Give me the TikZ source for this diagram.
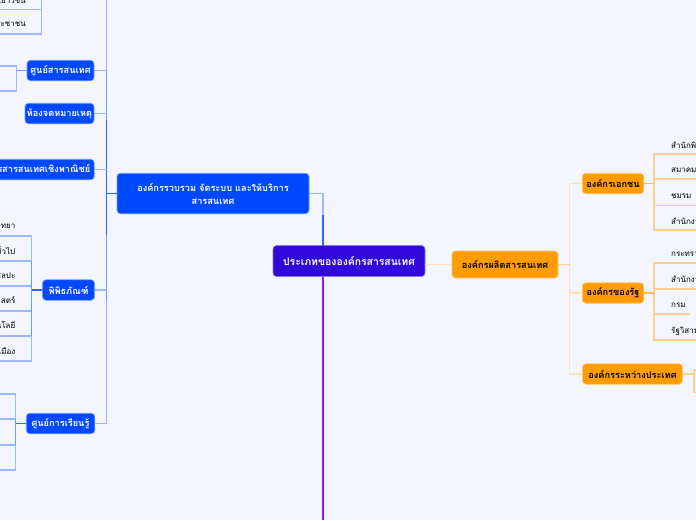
\documentclass[tikz,border=0pt]{standalone}
\usepackage{fontspec}
\newfontfamily\thaifont[Script=Thai]{Loma}
\definecolor{bgc}{HTML}{F3F6FF}
\definecolor{bluen}{HTML}{0048FF}
\definecolor{rootc}{HTML}{3008DC}
\definecolor{orn}{HTML}{FF9C00}
\definecolor{lbl}{HTML}{9DB9FF}
\definecolor{mbl}{HTML}{6F97FF}
\definecolor{dbl}{HTML}{2E66FF}
\definecolor{lor}{HTML}{FFE2B5}
\definecolor{mor}{HTML}{FFD08C}
\definecolor{purp}{HTML}{A614F5}
\tikzset{
 x=1pt,y=-1pt,
 bnode/.style={fill=bluen,draw=bluen!55!white,line width=.6pt,rounded corners=3.5pt,text=white,inner sep=0pt,font=\thaifont\bfseries\fontsize{9.2}{13}\selectfont,align=center,minimum height=20.5pt},
 onode/.style={fill=orn,draw=orn!55!white,line width=.6pt,rounded corners=3.5pt,text=black,inner sep=0pt,font=\thaifont\bfseries\fontsize{9.2}{13}\selectfont,align=center,minimum height=20.5pt},
 leaf/.style={text=black,inner sep=0pt,font=\thaifont\fontsize{8}{10}\selectfont},
 leafl/.style={leaf,anchor=east},
 leafr/.style={leaf,anchor=west},
 bl/.style={draw=lbl,line width=1.2pt},
 bm/.style={draw=mbl,line width=1.2pt},
 bd/.style={draw=dbl,line width=1.2pt},
 ol/.style={draw=lor,line width=1.2pt},
 om/.style={draw=mor,line width=1.1pt}
}
\begin{document}
\begin{tikzpicture}
\useasboundingbox (0,0) rectangle (696,520);
\clip (0,0) rectangle (696,520);
\fill[bgc] (0,0) rectangle (696,520);
% nodes
\node[bnode,minimum width=192pt,minimum height=40.5pt] (org) at (213,193.5) {องค์กรรวบรวม จัดระบบ และให้บริการ\\สารสนเทศ};
\node[bnode,minimum width=67pt] (n1) at (60.5,70.5) {ศูนย์สารสนเทศ};
\node[bnode,minimum width=69pt] (n2) at (59.5,113.5) {ห้องจดหมายเหตุ};
\node[bnode,anchor=east,inner xsep=4pt] (n3) at (94.5,169.5) {ศูนย์บริการสารสนเทศเชิงพาณิชย์};
\node[bnode,minimum width=52pt] (n4) at (68.5,290) {พิพิธภัณฑ์};
\node[bnode,minimum width=68.5pt] (n5) at (60.5,423.5) {ศูนย์การเรียนรู้};
\node[fill=rootc,draw=rootc!55!white,line width=.6pt,rounded corners=3.5pt,text=white,inner sep=0pt,font=\thaifont\bfseries\fontsize{10.4}{13}\selectfont,minimum width=152pt,minimum height=31pt] (root) at (349,261) {ประเภทขององค์กรสารสนเทศ};
\node[onode,minimum width=106pt,minimum height=27pt] (prod) at (505,264.5) {องค์กรผลิตสารสนเทศ};
\node[onode,minimum width=61.5pt] (o1) at (613,183.5) {องค์กรเอกชน};
\node[onode,minimum width=61.5pt] (o2) at (613,293) {องค์กรของรัฐ};
\node[onode,minimum width=100pt] (o3) at (632.5,374) {องค์กรระหว่างประเทศ};
% leaves left
\node[leafl] (a1) at (26,1) {ห้องสมุดเยาวชน};
\node[leafl] (a2) at (26,24) {ห้องสมุดประชาชน};
\node[leafl] (m1) at (15.5,226) {พิพิธภัณฑ์มานุษยวิทยา};
\node[leafl] (m2) at (15.5,250) {พิพิธภัณฑ์ทั่วไป};
\node[leafl] (m3) at (15.5,275) {พิพิธภัณฑ์ศิลปะ};
\node[leafl] (m4) at (15.5,300) {พิพิธภัณฑ์วิทยาศาสตร์};
\node[leafl] (m5) at (15.5,325) {พิพิธภัณฑ์เทคโนโลยี};
\node[leafl] (m6) at (15.5,351) {พิพิธภัณฑ์เมือง};
% leaves right
\node[leafr] (p1) at (671,145) {สำนักพิมพ์};
\node[leafr] (p2) at (671,170) {สมาคม};
\node[leafr] (p3) at (671,196) {ชมรม};
\node[leafr] (p4) at (671,221) {สำนักงาน};
\node[leafr] (s1) at (671,254) {กระทรวง};
\node[leafr] (s2) at (671,279) {สำนักงาน};
\node[leafr] (s3) at (671,305) {กรม};
\node[leafr] (s4) at (671,331) {รัฐวิสาหกิจ};
% free coordinates
\coordinate (tr) at (106.5,0);
\coordinate (tj) at (106.5,70.5);
\coordinate (bj) at (106.5,423.5);
\coordinate (oj) at (106.5,193.5);
\coordinate (ot) at (569.5,183.5);
\coordinate (ob) at (569.5,374);
\coordinate (oc) at (569.5,264.5);
\coordinate (rk) at (323,193.5);
\coordinate (rm) at (323,215);
\coordinate (rt) at (323,245.5);
\coordinate (rb) at (323,276.5);
\coordinate (pb) at (323,520);
% blue trunk
\draw[bl] (tr) -- (bj) -- (n5.east);
\draw[bm] (tj) -- (106.5,300);
\draw[bd] (106.5,120) -- (106.5,235);
\draw[bd] (org.west) -- (oj);
\draw[bl] (n1.east) -- (tj);
\draw[bl] (n2.east) -- (106.5,113.5);
\draw[bl] (n3.east) -- (106.5,169.5);
\draw[bl] (n4.east) -- (106.5,290);
% root links
\draw[bl] (org.east) -- (rk) -- (rm);
\draw[bd] (rm) -- (rt);
\draw[draw=purp,line width=1.5pt] (rb) -- (pb);
\draw[ol] (425,264.5) -- (prod.west);
% orange trunk
\draw[ol] (ot) -- (ob);
\draw[ol] (o1.west) -- (ot);
\draw[ol] (o2.west) -- (569.5,293);
\draw[ol] (o3.west) -- (ob);
\draw[om] (prod.east) -- (oc);
% bracket: top-left
\draw[bl] (0,9.5) -- (41.7,9.5);
\draw[bl] (0,34) -- (41.7,34) -- (41.7,0);
% bracket: n1
\draw[bl] (0,66) -- (16.5,66) -- (16.5,91) -- (0,91);
\draw[bm] (n1.west) -- (16.5,70.5);
% bracket: museum
\draw[bl] (0,236) -- (31.7,236) -- (31.7,361) -- (0,361);
\foreach \yy in {261,286,311,336}{\draw[bl] (0,\yy) -- (31.7,\yy);}
\draw[bm] (31.7,261) -- (31.7,336);
\draw[bd] (n4.west) -- (31.7,290);
% bracket: n5
\draw[bl] (0,394) -- (15.5,394) -- (15.5,470) -- (0,470);
\draw[bl] (0,419) -- (15.5,419);
\draw[bl] (0,445) -- (15.5,445);
\draw[bm] (15.5,419) -- (15.5,445);
\draw[bd] (n5.west) -- (15.5,423.5);
% bracket: o1
\draw[om] (696,154) -- (654,154) -- (654,230) -- (696,230);
\draw[om] (654,179) -- (696,179);
\draw[om] (654,205.5) -- (696,205.5);
\draw[draw=orn!70!white,line width=1.2pt] (o1.east) -- (654,183.5);
% bracket: o2
\draw[om] (696,263) -- (654,263) -- (654,340) -- (696,340);
\draw[om] (654,289) -- (696,289);
\draw[om] (654,314) -- (690,314);
\draw[draw=orn!70!white,line width=1.2pt] (o2.east) -- (654,293);
% bracket: o3
\draw[om] (696,370) -- (694,370) -- (694,392.5) -- (696,392.5);
\draw[om] (o3.east) -- (694,374);
\end{tikzpicture}
\end{document}
